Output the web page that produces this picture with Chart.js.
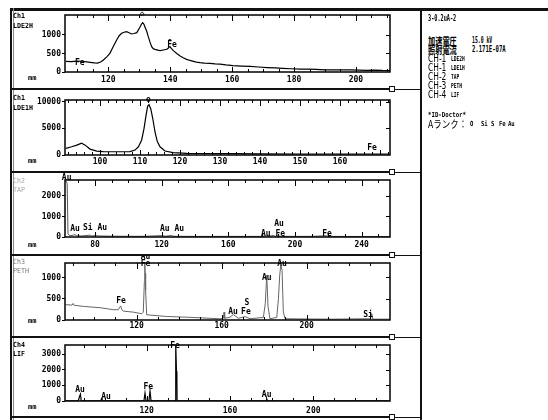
<!DOCTYPE html>
<html>
<head>
<meta charset="utf-8">
<script src="https://cdn.jsdelivr.net/npm/chart.js@4/dist/chart.umd.min.js"></script>
<style>
  html, body { margin: 0; padding: 0; }
  body { width: 548px; height: 420px; background: #fff; position: relative; overflow: hidden; }
  .panel { position: absolute; left: 0; z-index: 1; }
  .rule { position: absolute; background: #111; z-index: 2; }
  .box { position: absolute; border: 1px solid #111; background: #fff; z-index: 3; }
  .t { position: absolute; white-space: pre; color: #000; transform-origin: 0 50%; z-index: 4; }
</style>
</head>
<body>
<script>
// ---------- Ch1 / LDE2H ----------
const lde2hWave = [106.3,108,109.8,111.5,113,114.1,115.5,116.5,117.5,118.4,119.5,120.5,121.6,122.7,123.5,124.3,125.1,125.9,126.7,127.5,128.3,129.2,130.2,130.7,131.1,131.5,131.8,132.4,132.9,133.5,134.0,134.5,135.1,136.0,136.7,137.8,138.9,139.4,139.9,140.4,141.0,142.1,143.2,144.2,145.3,146.4,147.5,148.5,149.6,151,152.8,154.5,156.1,158,160.3,163,165.8,168.5,171.3,174,176.4,179,181.9,184.5,187.1,190,192.6,195,198.1,201,203.6,206,208.5,211];
const lde2hCounts = [286,280,295,290,275,262,245,240,270,324,410,505,690,865,980,1045,1075,1090,1060,1027,1040,1063,1207,1290,1333,1290,1225,1100,955,800,685,630,613,590,577,595,613,650,685,630,577,500,432,385,342,312,288,268,252,242,235,222,215,190,170,160,150,135,120,110,100,88,78,75,70,60,55,58,55,48,45,50,42,40];
const lde2hXTicks = [120,140,160,180,200];
const lde2hYTicks = [0,500,1000];
const lde2hPeakNames = ['Fe','F\u0304e','\u25C7'];
const lde2hPeakWave = [110.8,140.6,130.9];
const lde2hPeakLevel = [243,730,1570];

// ---------- Ch1 / LDE1H ----------
const lde1hWave = [91.5,92.9,94.2,95.4,96.3,97.5,99.2,100.8,104.2,107.5,108.75,109.6,110.4,111.0,111.5,111.9,112.25,112.7,113.2,113.75,114.3,115.0,116.25,118.3,121.7,125,133.3,140,150,160,172];
const lde1hCounts = [1240,1540,1850,2220,1850,1110,740,620,610,630,925,1540,2780,4940,7400,9130,9440,8650,6800,4320,2590,1540,740,430,310,280,240,220,190,190,190];
const lde1hXTicks = [100,110,120,130,140,150,160];
const lde1hYTicks = [0,5000,10000];
const lde1hPeakNames = ['o','Fe'];
const lde1hPeakWave = [112.1,168];
const lde1hPeakLevel = [10370,1300];

// ---------- Ch2 / TAP ----------
const tapWave = [62.5,63.3,63.8,65,68,69,72,77,78,81,82,90,100,110,121,122,126,127,140,160,180,183,184,187,188,190,192,210,219,220,240,257];
const tapCounts = [2750,2600,150,60,110,60,50,90,50,80,50,40,35,35,70,35,75,35,30,30,30,60,30,80,35,60,30,30,60,30,25,25];
const tapXTicks = [80,120,160,200,240];
const tapYTicks = [0,1000,2000];
const tapPeakNames = ['Au','Au','Si Au','Au Au','Au','Au Fe','Fe'];
const tapPeakWave = [63.0,68,80,126.2,190.4,186.8,219.2];
const tapPeakLevel = [2900,390,450,390,620,130,130];

// ---------- Ch3 / PETH ----------
const pethWave = [86.7,89.6,90.1,90.6,94.9,102.8,109.0,111.4,112.0,112.5,113.0,113.7,118.4,122.4,123.1,123.6,123.8,124.0,124.2,124.7,134.1,143.5,149.8,159.2,160.8,161.1,161.4,163.9,165.5,167.8,171.0,173.3,179.6,180.5,181.2,181.8,182.7,185.9,186.7,187.3,187.8,188.4,189.0,189.8,196.9,212.5,230.1,230.6,231.1,238.9];
const pethCounts = [360,350,390,345,320,289,242,242,300,330,240,209,185,147,185,900,1400,1100,700,123,83,66,52,28,40,185,40,66,130,40,80,30,60,384,1055,320,30,60,500,1055,1290,1170,190,30,25,20,30,150,20,20];
const pethXTicks = [120,160,200];
const pethYTicks = [0,500,1000];
const pethPeakNames = ['Au','Fe','Fe','Au','Fe','S','Au','Au','Si'];
const pethPeakWave = [124.2,124.2,112.6,165.3,171.4,171.9,181.2,188.4,228.9];
const pethPeakLevel = [1490,1330,440,180,180,390,1000,1315,120];

// ---------- Ch4 / LIF ----------
const lifWave = [81.0,87.2,87.7,88.2,88.6,97.9,98.4,98.9,118.7,119.2,119.7,121.1,121.6,122.1,133.6,133.95,134.3,134.5,134.6,177.3,177.6,177.9,236.5];
const lifCounts = [15,15,257,430,15,15,150,15,15,514,15,15,640,15,15,3700,1900,1860,15,15,150,15,15];
const lifXTicks = [120,160,200];
const lifYTicks = [0,1000,2000,3000];
const lifPeakNames = ['Au','Au','Fe','Fe','Au'];
const lifPeakWave = [88.0,100.5,120.8,133.6,177.6];
const lifPeakLevel = [690,240,880,3510,370];

// ---------- page layout ----------
const MONO = '"DejaVu Sans Mono", monospace';
const CJK = '"Noto Sans CJK JP", sans-serif';
const SANS = '"DejaVu Sans", sans-serif';

const panels = [
  { top: 10,  height: 78, padTop: 5,  xh: 16, xPad: 3, xMin: 106,   xMax: 211,   yMax: 1540,
    minor: 5, major: 20, color: '#000', lw: 1.2,
    wave: lde2hWave, counts: lde2hCounts, xTicks: lde2hXTicks, yTicks: lde2hYTicks,
    names: lde2hPeakNames, nameWave: lde2hPeakWave, nameLevel: lde2hPeakLevel },
  { top: 90,  height: 81, padTop: 10, xh: 16, xPad: 2, xMin: 91.25, xMax: 172.5, yMax: 10320,
    minor: 2, major: 10, color: '#000', lw: 1.2,
    wave: lde1hWave, counts: lde1hCounts, xTicks: lde1hXTicks, yTicks: lde1hYTicks,
    names: lde1hPeakNames, nameWave: lde1hPeakWave, nameLevel: lde1hPeakLevel },
  { top: 170, height: 84, padTop: 10, xh: 17, xPad: 3, xMin: 62,    xMax: 257,   yMax: 2780,
    minor: 10, major: 40, color: '#555', lw: 1,
    wave: tapWave, counts: tapCounts, xTicks: tapXTicks, yTicks: tapYTicks,
    names: tapPeakNames, nameWave: tapPeakWave, nameLevel: tapPeakLevel },
  { top: 255, height: 81, padTop: 8,  xh: 16, xPad: 1, xMin: 86.26, xMax: 239.2, yMax: 1340,
    minor: 10, major: 40, color: '#666', lw: 1,
    wave: pethWave, counts: pethCounts, xTicks: pethXTicks, yTicks: pethYTicks,
    names: pethPeakNames, nameWave: pethPeakWave, nameLevel: pethPeakLevel },
  { top: 337, height: 79, padTop: 8,  xh: 15, xPad: 5, xMin: 80.8,  xMax: 236.8, yMax: 3580,
    minor: 10, major: 40, color: '#000', lw: 1.2,
    wave: lifWave, counts: lifCounts, xTicks: lifXTicks, yTicks: lifYTicks,
    names: lifPeakNames, nameWave: lifPeakWave, nameLevel: lifPeakLevel }
];

const CANVAS_W = 421;
const PLOT_LEFT = 65;
const PLOT_RIGHT = 390;

// box, inward tick marks and element names of one panel
function panelDecor(p) {
  return {
    id: 'panelDecor',
    afterDraw(chart) {
      const { ctx, chartArea: a, scales: { x, y } } = chart;
      ctx.save();
      ctx.strokeStyle = '#000';
      ctx.lineWidth = 1;
      ctx.beginPath();
      const i0 = Math.ceil(p.xMin / p.minor);
      const i1 = Math.floor(p.xMax / p.minor);
      const perMajor = Math.round(p.major / p.minor);
      for (let i = i0; i <= i1; i++) {
        const px = Math.round(x.getPixelForValue(i * p.minor)) + 0.5;
        const isMajor = i % perMajor === 0;
        ctx.moveTo(px, a.top); ctx.lineTo(px, a.top + (isMajor ? 6 : 3));
        ctx.moveTo(px, a.bottom); ctx.lineTo(px, a.bottom - (isMajor ? 5 : 3));
      }
      p.yTicks.forEach(v => {
        if (!v) return;
        const py = Math.round(y.getPixelForValue(v)) + 0.5;
        ctx.moveTo(a.right, py); ctx.lineTo(a.right - 4, py);
      });
      ctx.stroke();
      ctx.lineWidth = 1.5;
      ctx.strokeRect(a.left, a.top, a.right - a.left, a.bottom - a.top);
      ctx.font = 'bold 8px ' + MONO;
      ctx.fillStyle = '#000';
      ctx.textAlign = 'center';
      ctx.textBaseline = 'middle';
      p.names.forEach((n, i) => {
        ctx.fillText(n, x.getPixelForValue(p.nameWave[i]), y.getPixelForValue(p.nameLevel[i]));
      });
      ctx.restore();
    }
  };
}

panels.forEach(p => {
  const wrap = document.createElement('div');
  wrap.className = 'panel';
  wrap.style.top = p.top + 'px';
  const cv = document.createElement('canvas');
  cv.width = CANVAS_W; cv.height = p.height;
  cv.style.width = CANVAS_W + 'px'; cv.style.height = p.height + 'px';
  wrap.appendChild(cv);
  document.body.appendChild(wrap);

  const tickFont = { family: MONO, size: 8, weight: 'bold' };
  new Chart(cv, {
    type: 'line',
    data: {
      datasets: [{
        data: p.wave.map((w, i) => ({ x: w, y: p.counts[i] })),
        borderColor: p.color,
        borderWidth: p.lw,
        pointRadius: 0,
        tension: 0,
        fill: false
      }]
    },
    options: {
      responsive: false,
      animation: false,
      devicePixelRatio: 1,
      layout: { padding: { left: 0, right: CANVAS_W - PLOT_RIGHT, top: p.padTop, bottom: 0 } },
      plugins: { legend: { display: false }, tooltip: { enabled: false } },
      scales: {
        x: {
          type: 'linear', bounds: 'data', min: p.xMin, max: p.xMax,
          grid: { display: false, drawTicks: false },
          border: { display: false },
          ticks: { font: tickFont, color: '#000', padding: p.xPad, autoSkip: false, maxRotation: 0,
                   callback: v => String(v) },
          afterBuildTicks: s => { s.ticks = p.xTicks.map(v => ({ value: v })); },
          afterFit: s => { s.height = p.xh; s.paddingLeft = 0; s.paddingRight = 0; }
        },
        y: {
          type: 'linear', bounds: 'data', min: 0, max: p.yMax,
          grid: { display: true, drawOnChartArea: false, drawTicks: true, tickLength: 3, color: '#000' },
          border: { display: false },
          ticks: { font: tickFont, color: '#000', padding: 1, autoSkip: false,
                   callback: v => String(v) },
          afterBuildTicks: s => { s.ticks = p.yTicks.map(v => ({ value: v })); },
          afterFit: s => { s.width = PLOT_LEFT; s.paddingTop = 0; s.paddingBottom = 0; }
        }
      }
    },
    plugins: [panelDecor(p)]
  });
});

// frame rules
function rule(x, y, w, h, color) {
  const d = document.createElement('div');
  d.className = 'rule';
  d.style.cssText = `left:${x}px;top:${y}px;width:${w}px;height:${h}px;` + (color ? `background:${color};` : '');
  document.body.appendChild(d);
}
function marker(x, y) {
  const d = document.createElement('div');
  d.className = 'box';
  d.style.cssText = `left:${x}px;top:${y}px;width:4px;height:4px;`;
  document.body.appendChild(d);
}
rule(10, 8, 538, 3);
rule(10, 8, 2, 412);
rule(13, 8, 1, 412, '#888');
rule(420, 8, 2, 412);
[88, 171, 254, 336, 416].forEach(yy => {
  rule(12, yy, 378, 2);
  rule(394, yy + 0.5, 26, 1);
  marker(389, yy - 2);
});

// text
function text(str, x, y, family, size, weight, sx, color) {
  const d = document.createElement('div');
  d.className = 't';
  d.textContent = str;
  d.style.left = x + 'px';
  d.style.top = (y - size / 2) + 'px';
  d.style.fontFamily = family;
  d.style.fontSize = size + 'px';
  d.style.lineHeight = size + 'px';
  d.style.fontWeight = weight;
  d.style.transform = `scaleX(${sx})`;
  if (color) d.style.color = color;
  document.body.appendChild(d);
}

// panel captions
text('Ch1', 13, 16, MONO, 7, 'bold', 0.95);
text('LDE2H', 13, 26, MONO, 7, 'bold', 0.95);
text('mm', 28, 78, MONO, 7, 'bold', 1);
text('Ch1', 13, 98, MONO, 7, 'bold', 0.95);
text('LDE1H', 13, 108, MONO, 7, 'bold', 0.95);
text('mm', 28, 161, MONO, 7, 'bold', 1);
text('Ch2', 13, 181, MONO, 7, 'normal', 0.95, '#aaa');
text('TAP', 13, 190, MONO, 7, 'normal', 0.95, '#aaa');
text('mm', 28, 245, MONO, 7, 'bold', 1);
text('Ch3', 13, 262, MONO, 7, 'normal', 0.95, '#777');
text('PETH', 13, 271, MONO, 7, 'normal', 0.95, '#777');
text('mm', 28, 321, MONO, 7, 'bold', 1);
text('Ch4', 13, 345, MONO, 7, 'bold', 0.95);
text('LIF', 13, 354, MONO, 7, 'bold', 0.95);
text('mm', 28, 407, MONO, 7, 'bold', 1);

// measurement conditions
text('3-0.2uA-2', 428, 19, MONO, 8, 'bold', 0.65);
text('加速電圧', 428, 41, CJK, 10, 'bold', 0.72);
text('15.0 kV', 472, 41, MONO, 8, 'bold', 0.6);
text('照射電流', 428, 50, CJK, 10, 'bold', 0.72);
text('2.171E-07A', 472, 50, MONO, 8, 'bold', 0.7);
[['CH-1', 'LDE2H', 59], ['CH-1', 'LDE1H', 68], ['CH-2', 'TAP', 77], ['CH-3', 'PETH', 86], ['CH-4', 'LIF', 95]]
  .forEach(([ch, cr, yy]) => {
    text(ch, 428, yy, SANS, 10, 'normal', 0.75);
    text(cr, 451, yy, MONO, 7, 'bold', 0.65);
  });
text('*ID-Doctor*', 428, 115, MONO, 7, 'bold', 0.82);
text('Aランク：', 428, 124, CJK, 10, 'normal', 0.85);
[['O', 470], ['Si', 481], ['S', 491], ['Fe', 499], ['Au', 508]].forEach(([el, xx]) => {
  text(el, xx, 124, MONO, 7, 'bold', 0.8);
});
</script>
</body>
</html>
